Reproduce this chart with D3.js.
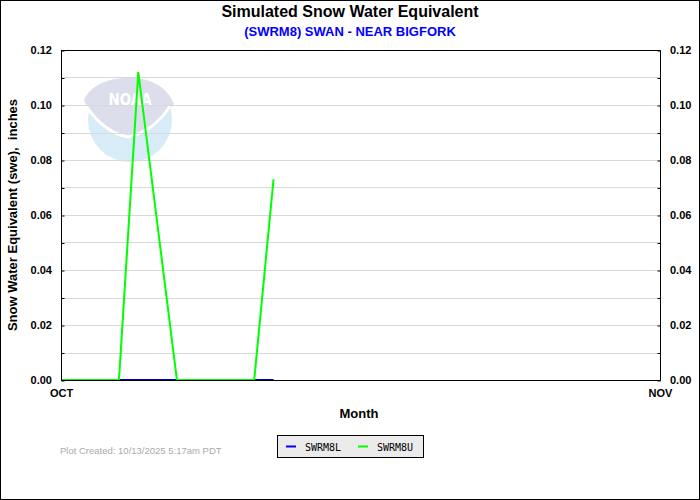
<!DOCTYPE html>
<html>
<head>
<meta charset="utf-8">
<style>
    body { margin: 0; background: white; }
    svg { display: block; font-family: Arial, 'Liberation Sans', sans-serif; }
    .tick text { font-size: 11px; font-weight: bold; fill: #000; }
</style>
</head>
<body>
<svg width="700" height="500"></svg>

<script src="https://d3js.org/d3.v7.min.js"></script>
<script>
    // daily values, day 0 = Oct 1
    let upperDays = [0, 1, 2, 3, 4, 5, 6, 7, 8, 9, 10, 11]
    let upperSwe = [0, 0, 0, 0, 0.112, 0.056, 0, 0, 0, 0, 0, 0.073]
    let lowerDays = [3, 4, 5, 6, 7, 8, 9, 10, 11]
    let lowerSwe = [0, 0, 0, 0, 0, 0, 0, 0, 0]
    let yTicks = [0, 0.02, 0.04, 0.06, 0.08, 0.10, 0.12]
    let monthTicks = ["OCT", "NOV"]

    let svg = d3.select("svg")
    let plotL = 61, plotR = 660, plotT = 50, plotB = 380

    let start = new Date(2025, 9, 1), end = new Date(2025, 10, 1)
    let x = d3.scaleTime().domain([start, end]).range([plotL, plotR])
    let y = d3.scaleLinear().domain([0, 0.12]).range([plotB, plotT])
    let day = d => d3.timeDay.offset(start, d)

    // outer frame
    svg.append("rect").attr("x", 0.5).attr("y", 0.5).attr("width", 699).attr("height", 499)
        .attr("fill", "white").attr("stroke", "black")

    // faded noaa logo
    let logo = svg.append("g").attr("transform", "translate(130,120)")
    logo.append("circle").attr("r", 42).attr("fill", "#d7ecf6")
    logo.append("path")
        .attr("d", "M-46,-20 C-40,-34 -22,-43 0,-42 C22,-42 38,-32 44,-16 C32,0 15,12 -2,15 C-22,12 -38,0 -46,-20 Z")
        .attr("fill", "#dcdeeb")
    logo.append("path")
        .attr("d", "M-44,-14 C-32,4 -16,15 -2,17 C16,13 30,2 40,-14")
        .attr("fill", "none").attr("stroke", "white").attr("stroke-width", 3)
    logo.append("text").attr("x", 0).attr("y", -15).attr("text-anchor", "middle")
        .attr("font-size", 15).attr("font-weight", "bold").attr("fill", "white")
        .attr("font-family", "'Liberation Sans Narrow', 'DejaVu Sans Condensed', Arial, sans-serif")
        .text("NOAA")

    // grid
    svg.append("g")
        .selectAll("line")
        .data(d3.range(1, 12).map(d => d / 100))
        .join("line")
        .attr("x1", plotL).attr("x2", plotR)
        .attr("y1", d => Math.round(y(d)) + 0.5).attr("y2", d => Math.round(y(d)) + 0.5)
        .attr("stroke", "#d9d9d9")

    // lines
    let line = d3.line().x(d => x(d[0])).y(d => y(d[1]))
    svg.append("path")
        .datum(lowerDays.map((d, i) => [day(d), lowerSwe[i]]))
        .attr("d", line).attr("fill", "none").attr("stroke", "#0000cc").attr("stroke-width", 2)
    svg.append("path")
        .datum(upperDays.map((d, i) => [day(d), upperSwe[i]]))
        .attr("d", line).attr("fill", "none").attr("stroke", "#00ff00").attr("stroke-width", 2)

    // axes frame
    svg.append("path")
        .attr("d", `M${plotL + 0.5},${plotT} V${plotB + 0.5} H${plotR + 0.5} V${plotT + 0.5} H${plotL + 0.5}`)
        .attr("fill", "none").attr("stroke", "black")

    let minor = d3.range(0, 13).map(d => d / 100)
    svg.append("g").attr("transform", `translate(${plotL + 0.5},0.5)`)
        .call(d3.axisRight(y).tickValues(minor).tickSize(3).tickFormat(""))
        .call(g => g.select(".domain").remove())
    svg.append("g").attr("transform", `translate(${plotR + 0.5},0.5)`)
        .call(d3.axisLeft(y).tickValues(minor).tickSize(3).tickFormat(""))
        .call(g => g.select(".domain").remove())

    svg.append("g").attr("transform", `translate(${plotL - 6},0)`)
        .call(d3.axisLeft(y).tickValues(yTicks).tickSize(0).tickFormat(d3.format(".2f")))
        .call(g => g.select(".domain").remove())
    svg.append("g").attr("transform", `translate(${plotR + 7},0)`)
        .call(d3.axisRight(y).tickValues(yTicks).tickSize(0).tickFormat(d3.format(".2f")))
        .call(g => g.select(".domain").remove())

    svg.append("g").attr("transform", `translate(0,${plotB + 6})`)
        .call(d3.axisBottom(x).tickValues([start, end]).tickSize(0).tickFormat((d, i) => monthTicks[i]))
        .call(g => g.select(".domain").remove())

    // titles
    svg.append("text").attr("x", 350).attr("y", 17).attr("text-anchor", "middle")
        .attr("font-size", 16).attr("font-weight", "bold").text("Simulated Snow Water Equivalent")
    svg.append("text").attr("x", 350).attr("y", 36).attr("text-anchor", "middle")
        .attr("font-size", 13).attr("font-weight", "bold").attr("fill", "#0000ff")
        .text("(SWRM8) SWAN - NEAR BIGFORK")
    svg.append("text").attr("transform", "translate(17,215) rotate(-90)").attr("text-anchor", "middle")
        .attr("font-size", 13).attr("font-weight", "bold").attr("xml:space", "preserve")
        .text("Snow Water Equivalent (swe),  inches")
    svg.append("text").attr("x", 359).attr("y", 418).attr("text-anchor", "middle")
        .attr("font-size", 13).attr("font-weight", "bold").text("Month")

    // legend
    let legend = svg.append("g")
    legend.append("rect").attr("x", 277.5).attr("y", 435.5).attr("width", 146).attr("height", 22)
        .attr("fill", "#ebebeb").attr("stroke", "black")
    let items = [["SWRM8L", "#0000ff", 286], ["SWRM8U", "#00ff00", 358]]
    items.forEach(it => {
        legend.append("line").attr("x1", it[2]).attr("x2", it[2] + 10).attr("y1", 446.5).attr("y2", 446.5)
            .attr("stroke", it[1]).attr("stroke-width", 2)
        legend.append("text").attr("x", it[2] + 19).attr("y", 450.5)
            .attr("font-family", "'DejaVu Sans Mono', monospace").attr("font-size", 10).text(it[0])
    })

    svg.append("text").attr("x", 60).attr("y", 454).attr("font-size", 9.5).attr("fill", "#aaaaaa")
        .text("Plot Created: 10/13/2025 5:17am PDT")
</script>
</body>
</html>
